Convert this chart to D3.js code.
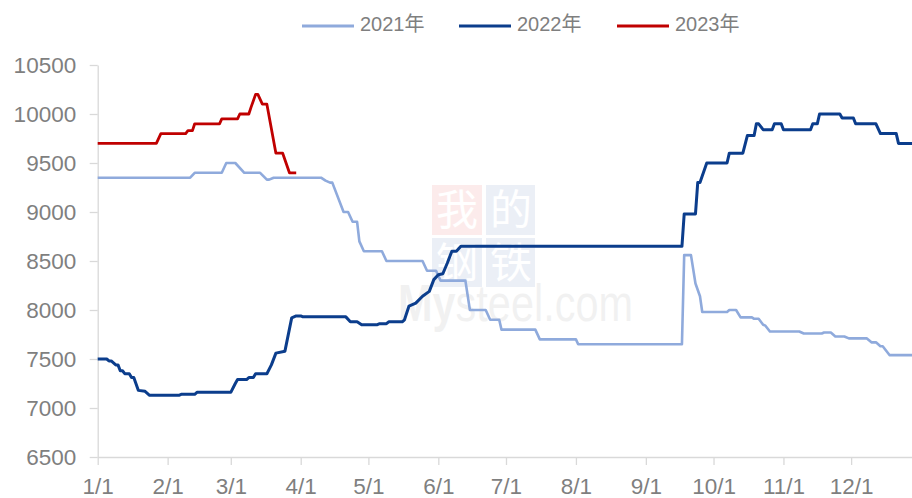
<!DOCTYPE html>
<html>
<head>
<meta charset="utf-8">
<script src="https://cdn.jsdelivr.net/npm/d3@7/dist/d3.min.js"></script>
<style>
  html, body { margin: 0; padding: 0; background: #fff; }
  svg { display: block; }
  text { font-family: "Liberation Sans", Arial, "Noto Sans CJK SC", sans-serif; }
</style>
</head>
<body>
<svg id="chart" width="912" height="498"></svg>
<script>
// ---- data ----
const seriesNames = ["2021年", "2022年", "2023年"];
const seriesColors = ["#8faadc", "#0b3d8c", "#c00000"];

const dates2021 = ["1/1","2/11","2/13","2/25","2/27","3/3","3/7","3/14","3/17","3/18","3/20","4/10","4/12","4/14","4/15","4/20","4/22","4/24","4/26","4/27","4/29","5/7","5/9","5/25","5/27","5/31","6/2","6/13","6/15","6/22","6/24","6/28","6/29","7/14","7/16","8/1","8/2","9/17","9/18","9/21","9/23","9/25","9/26","10/7","10/8","10/11","10/13","10/18","10/19","10/21","10/23","10/24","10/26","11/8","11/10","11/18","11/19","11/22","11/24","11/28","11/30","12/8","12/10","12/12","12/14","12/15","12/18","12/31"];
const values2021 = [9350,9350,9400,9400,9500,9500,9400,9400,9330,9330,9350,9350,9320,9300,9300,9000,9000,8900,8900,8700,8600,8600,8500,8500,8400,8400,8300,8300,8000,8000,7900,7900,7800,7800,7700,7700,7650,7650,8560,8560,8270,8140,7980,7980,8000,8000,7925,7925,7910,7910,7850,7840,7780,7780,7760,7760,7770,7770,7730,7730,7710,7710,7670,7670,7630,7630,7540,7540];

const dates2022 = ["1/1","1/5","1/6","1/7","1/9","1/10","1/11","1/12","1/13","1/15","1/16","1/17","1/19","1/22","1/24","2/6","2/7","2/13","2/14","3/1","3/3","3/4","3/8","3/9","3/11","3/12","3/17","3/19","3/21","3/25","3/28","3/30","4/1","4/2","4/21","4/23","4/26","4/28","5/5","5/6","5/9","5/10","5/16","5/17","5/19","5/22","5/25","5/28","5/30","6/1","6/3","6/5","6/7","6/9","6/11","9/17","9/18","9/23","9/24","9/25","9/28","10/7","10/8","10/14","10/16","10/19","10/20","10/21","10/23","10/27","10/28","10/31","11/1","11/13","11/14","11/16","11/17","11/26","11/27","12/2","12/3","12/12","12/14","12/21","12/22","12/31"];
const values2022 = [7500,7500,7480,7480,7440,7440,7380,7380,7350,7350,7310,7310,7180,7170,7130,7130,7140,7140,7160,7160,7250,7290,7290,7310,7310,7350,7350,7440,7560,7580,7920,7940,7940,7930,7930,7880,7880,7850,7850,7860,7860,7880,7880,7900,8040,8070,8140,8190,8310,8360,8370,8480,8600,8600,8650,8650,8980,8980,9300,9300,9500,9500,9600,9600,9780,9780,9900,9900,9840,9840,9900,9900,9840,9840,9900,9900,10000,10000,9960,9960,9900,9900,9800,9800,9700,9700];

const dates2023 = ["1/1","1/27","1/29","2/9","2/10","2/12","2/13","2/24","2/25","3/4","3/5","3/9","3/10","3/12","3/13","3/15","3/17","3/21","3/24","3/27","3/30"];
const values2023 = [9700,9700,9800,9800,9830,9830,9900,9900,9950,9950,10000,10000,10070,10200,10200,10100,10100,9600,9600,9400,9400];

const xTickLabels = ["1/1","2/1","3/1","4/1","5/1","6/1","7/1","8/1","9/1","10/1","11/1","12/1"];
const yTickValues = [6500,7000,7500,8000,8500,9000,9500,10000,10500];

// ---- chart ----
const svg = d3.select("#chart");
const parse = s => d3.timeParse("%Y/%m/%d")("2022/" + s);

const x = d3.scaleTime()
  .domain([parse("1/1"), parse("12/31")])
  .range([97.7, 918.8]);
const y = d3.scaleLinear().domain([6500, 10500]).range([457, 65]);

// watermark
const wm = svg.append("g").attr("opacity", 0.09);
wm.append("rect").attr("x", 432).attr("y", 185).attr("width", 50).attr("height", 50).attr("fill", "#e8332a");
wm.append("rect").attr("x", 486).attr("y", 185).attr("width", 49).attr("height", 50).attr("fill", "#2a56a8");
wm.append("rect").attr("x", 432).attr("y", 238).attr("width", 50).attr("height", 49).attr("fill", "#2a56a8");
wm.append("rect").attr("x", 486).attr("y", 238).attr("width", 49).attr("height", 49).attr("fill", "#2a56a8");
const wmChars = ["我","的","钢","铁"];
wmChars.forEach((c, i) => {
  wm.append("text")
    .attr("x", 432 + 25 + (i % 2) * 54).attr("y", 185 + 25 + Math.floor(i / 2) * 53)
    .attr("text-anchor", "middle").attr("dominant-baseline", "central")
    .attr("font-family", "Noto Sans CJK SC").attr("font-size", 42)
    .attr("fill", "#fff").text(c);
});
svg.append("text").attr("x", 398).attr("y", 321)
  .attr("font-size", 52).attr("fill", "#000").attr("opacity", 0.05)
  .attr("textLength", 235).attr("lengthAdjust", "spacingAndGlyphs")
  .html('<tspan font-weight="bold">My</tspan>steel.com');

// axes
const axisColor = "#d9d9d9";
const textColor = "#7f7f7f";

const yAxis = svg.append("g").attr("transform", "translate(97.7,0)")
  .call(d3.axisLeft(y).tickValues(yTickValues).tickSize(8).tickSizeOuter(0).tickPadding(13.5).tickFormat(d3.format("d")));
yAxis.select(".domain").attr("stroke", axisColor).attr("stroke-width", 1.3);
yAxis.selectAll(".tick line").attr("stroke", axisColor).attr("stroke-width", 1.3);
yAxis.selectAll(".tick text").attr("fill", textColor).attr("font-size", 22.5)
  .attr("font-family", "'Liberation Sans', Arial, sans-serif");

const xAxis = svg.append("g").attr("transform", "translate(0,457)")
  .call(d3.axisBottom(x).tickValues(xTickLabels.map(parse)).tickSize(8).tickSizeOuter(0).tickPadding(13)
    .tickFormat(d3.timeFormat("%-m/%-d")));
xAxis.select(".domain").attr("stroke", axisColor).attr("stroke-width", 1.3);
xAxis.selectAll(".tick line").attr("stroke", axisColor).attr("stroke-width", 1.3);
xAxis.selectAll(".tick text").attr("fill", textColor).attr("font-size", 22.5)
  .attr("font-family", "'Liberation Sans', Arial, sans-serif");

// lines
const line = d3.line().x(d => x(d.date)).y(d => y(d.value));
const series = [
  { dates: dates2021, values: values2021, color: seriesColors[0], width: 2.6 },
  { dates: dates2022, values: values2022, color: seriesColors[1], width: 3 },
  { dates: dates2023, values: values2023, color: seriesColors[2], width: 2.8 }
];
series.forEach(s => {
  const pts = s.dates.map((d, i) => ({ date: parse(d), value: s.values[i] }));
  svg.append("path").datum(pts)
    .attr("fill", "none").attr("stroke", s.color).attr("stroke-width", s.width)
    .attr("stroke-linejoin", "round").attr("d", line);
});

// legend
const legendX = [302, 459, 617];
const legend = svg.append("g");
seriesNames.forEach((n, i) => {
  legend.append("line").attr("x1", legendX[i]).attr("x2", legendX[i] + 52)
    .attr("y1", 26).attr("y2", 26).attr("stroke", seriesColors[i]).attr("stroke-width", 3);
  legend.append("text").attr("x", legendX[i] + 58).attr("y", 26)
    .attr("dominant-baseline", "middle").attr("font-size", 20).attr("fill", textColor)
    .text(n);
});
</script>
</body>
</html>
